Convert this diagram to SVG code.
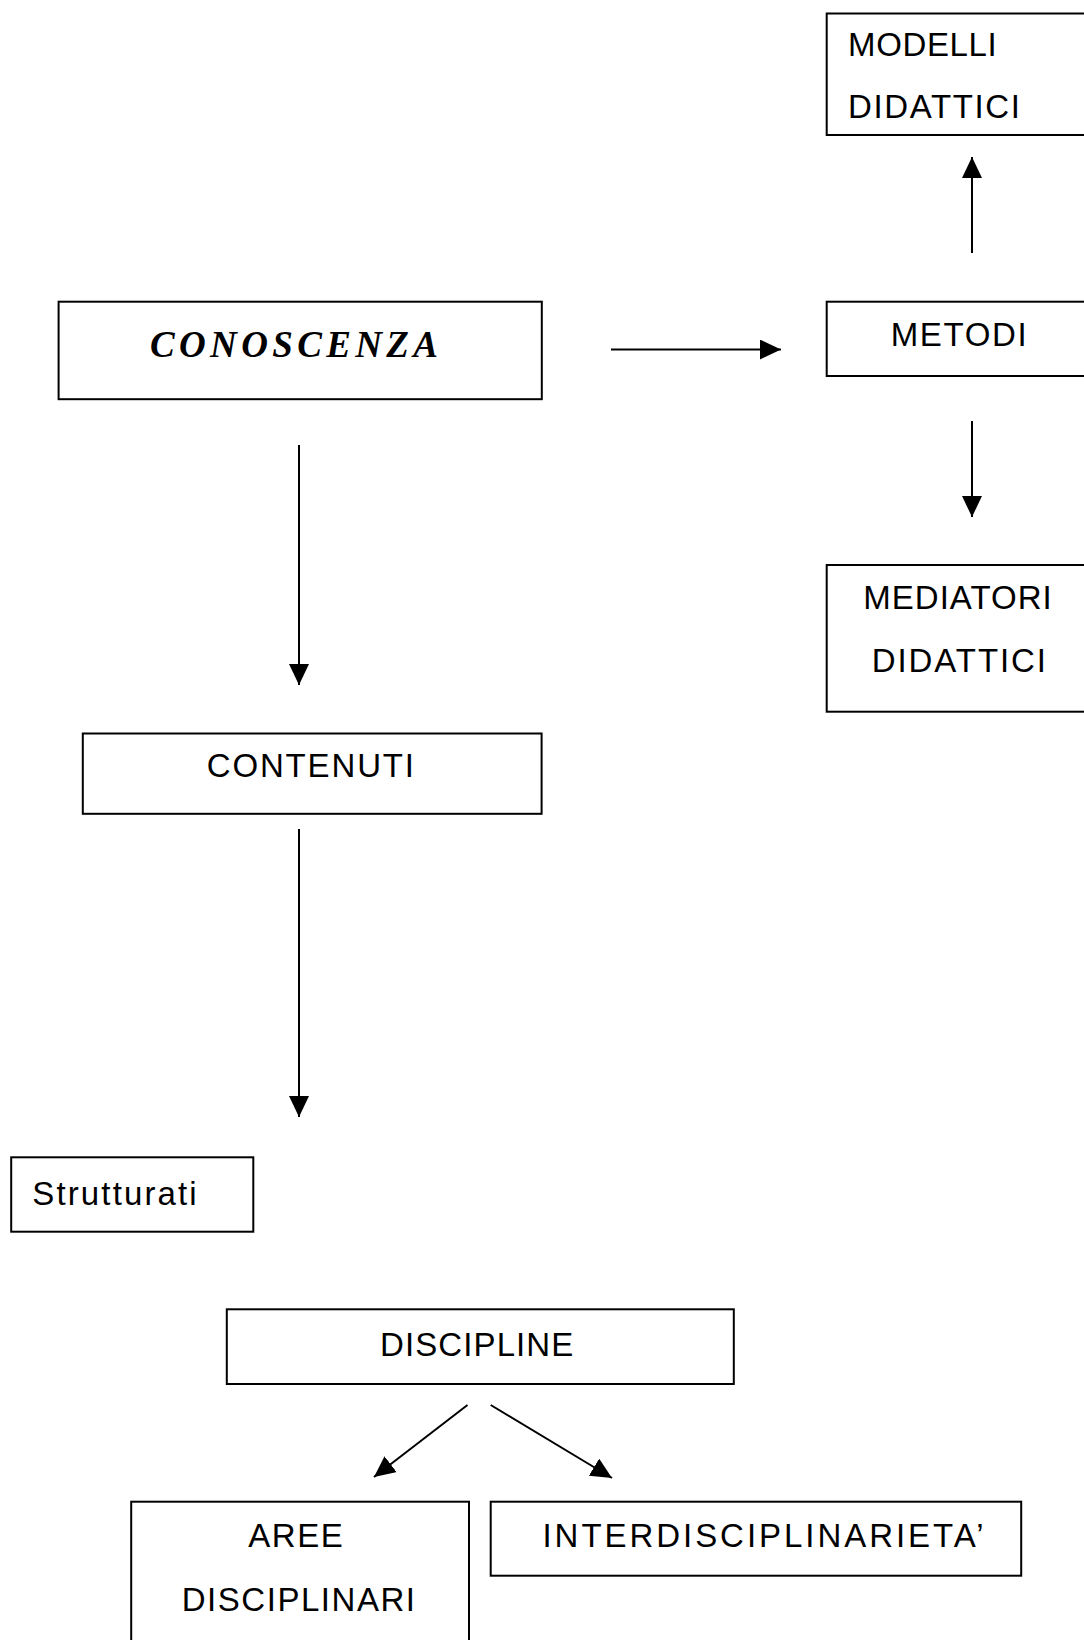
<svg xmlns="http://www.w3.org/2000/svg" width="1084" height="1640" viewBox="0 0 1084 1640">
<style>
.box{fill:#fff;stroke:#000;stroke-width:2}
.t{font-family:"Liberation Sans",Arial,sans-serif;font-size:33px;fill:#000}
.ti{font-family:"Liberation Serif","Times New Roman",serif;font-size:37px;font-weight:bold;font-style:italic;fill:#000}
.c{stroke:#000;stroke-width:2;fill:none;marker-end:url(#ah)}
</style>
<defs>
<marker id="ah" viewBox="0 0 21 20" refX="21" refY="10" markerWidth="21" markerHeight="20" markerUnits="userSpaceOnUse" orient="auto">
<path d="M0,0 L21,10 L0,20 Z" fill="#000"/>
</marker>
</defs>
<rect width="1084" height="1640" fill="#fff"/>
<g id="connectors">
<line class="c" x1="972" y1="253" x2="972" y2="157"/>
<line class="c" x1="611" y1="349.5" x2="781" y2="349.5"/>
<line class="c" x1="972" y1="421" x2="972" y2="517"/>
<line class="c" x1="299" y1="445" x2="299" y2="685"/>
<line class="c" x1="299" y1="829" x2="299" y2="1117"/>
<line class="c" x1="467.5" y1="1405" x2="374" y2="1477"/>
<line class="c" x1="490.7" y1="1405" x2="612" y2="1478"/>
</g>
<g id="modelli">
<rect class="box" x="826.7" y="13.5" width="270" height="121.5"/>
<text class="t" x="848" y="56" textLength="148.7" lengthAdjust="spacing">MODELLI</text>
<text class="t" x="848" y="118" textLength="172" lengthAdjust="spacing">DIDATTICI</text>
</g>
<g id="metodi">
<rect class="box" x="826.7" y="301.7" width="270" height="74.3"/>
<text class="t" x="890.7" y="346" textLength="136" lengthAdjust="spacing">METODI</text>
</g>
<g id="mediatori">
<rect class="box" x="826.7" y="565" width="270" height="146.7"/>
<text class="t" x="863.3" y="609" textLength="188.4" lengthAdjust="spacing">MEDIATORI</text>
<text class="t" x="871.7" y="672" textLength="174.3" lengthAdjust="spacing">DIDATTICI</text>
</g>
<g id="conoscenza">
<rect class="box" x="58.6" y="301.7" width="483.2" height="97.5"/>
<text class="ti" x="150" y="357" textLength="288" lengthAdjust="spacing">CONOSCENZA</text>
</g>
<g id="contenuti">
<rect class="box" x="82.8" y="733.5" width="458.8" height="80.3"/>
<text class="t" x="206.7" y="777" textLength="207.3" lengthAdjust="spacing">CONTENUTI</text>
</g>
<g id="strutturati">
<rect class="box" x="11.2" y="1157.3" width="242.1" height="74.4"/>
<text class="t" x="32.3" y="1204.5" textLength="164.4" lengthAdjust="spacing">Strutturati</text>
</g>
<g id="discipline">
<rect class="box" x="226.8" y="1309.3" width="507" height="74.7"/>
<text class="t" x="380" y="1355.5" textLength="193.3" lengthAdjust="spacing">DISCIPLINE</text>
</g>
<g id="aree">
<rect class="box" x="131.2" y="1501.7" width="337.8" height="160"/>
<text class="t" x="248.3" y="1546.5" textLength="94.4" lengthAdjust="spacing">AREE</text>
<text class="t" x="181.7" y="1610.5" textLength="233.3" lengthAdjust="spacing">DISCIPLINARI</text>
</g>
<g id="interdisciplinarieta">
<rect class="box" x="490.7" y="1501.7" width="530.5" height="74"/>
<text class="t" x="542.5" y="1546.5" textLength="441" lengthAdjust="spacing">INTERDISCIPLINARIETA’</text>
</g>
</svg>
